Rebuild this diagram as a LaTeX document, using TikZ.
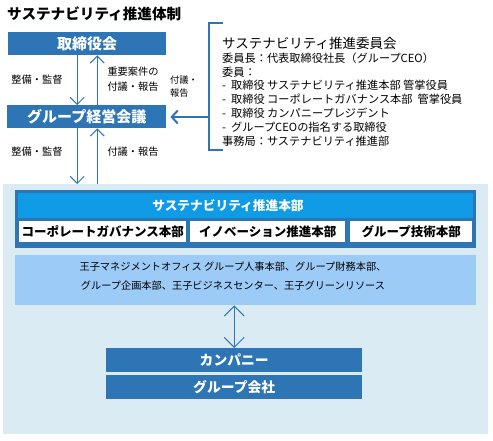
\documentclass[tikz,border=0pt]{standalone}
\usepackage{fontspec}
\setmainfont{Noto Sans CJK JP}
\usepackage{tikz}
\usetikzlibrary{arrows.meta}
\definecolor{darkblue}{HTML}{2E75B6}
\definecolor{brightblue}{HTML}{0F9BE6}
\definecolor{paleblue}{HTML}{9DCBF7}
\definecolor{areablue}{HTML}{DAEBF3}
\tikzstyle{bluebox} = [fill=darkblue, text=white, anchor=north west, inner sep=0pt,
    minimum height=23pt, font=\bfseries\fontsize{15}{17}\selectfont]
\tikzstyle{whitebox} = [fill=white, anchor=north west, inner sep=0pt,
    minimum height=21pt, font=\bfseries\fontsize{12.5}{14}\selectfont]
\tikzstyle{lbl} = [inner sep=0pt, align=left, font=\fontsize{10.2}{15}\selectfont]
\tikzstyle{line} = [draw=darkblue, line width=1pt, -{Straight Barb[length=7pt,width=14pt]}]
\tikzstyle{thickline} = [draw=darkblue, line width=2pt, -{Straight Barb[length=6pt,width=13pt]}]

\begin{document}
\begin{tikzpicture}[x=1pt, y=-1pt]
    \useasboundingbox (0,0) rectangle (493,440);
    % Place nodes
    \node [anchor=west, inner sep=0pt, font=\bfseries\fontsize{14.6}{16}\selectfont] (title) at (7,14) {サステナビリティ推進体制};
    \node [bluebox, minimum width=158pt] (board) at (8,32) {取締役会};
    \node [bluebox, minimum width=159pt] (mgmt) at (7,105) {グループ経営会議};
    \node [lbl] (watch1) at (37,80) {整備・監督};
    \node [lbl] (report1) at (133,79.5) {重要案件の\\付議・報告};
    \node [lbl, font=\fontsize{9.2}{13}\selectfont] (report2) at (184,86.5) {付議・\\報告};
    \node [lbl] (watch2) at (37,152) {整備・監督};
    \node [lbl] (report3) at (133,152) {付議・報告};
    % committee
    \node [anchor=base west, inner sep=0pt, font=\fontsize{13.5}{16}\selectfont] (cmtetitle) at (222,48) {サステナビリティ推進委員会};
    \node [anchor=north west, inner sep=0pt, align=left, font=\fontsize{11.2}{13.8}\selectfont] (cmte) at (222,52.5) {委員長：代表取締役社長（グループCEO）\\委員：\\- \ 取締役 サステナビリティ推進本部 管掌役員\\- \ 取締役 コーポレートガバナンス本部 \ 管掌役員\\- \ 取締役 カンパニープレジデント\\- \ グループCEOの指名する取締役\\事務局：サステナビリティ推進部};
    \coordinate (brk) at (209,117);
    % lower area
    \node [fill=areablue, anchor=north west, inner sep=0pt, minimum width=485pt, minimum height=250pt] (area) at (3,184) {};
    \node [fill=darkblue, anchor=north west, inner sep=0pt, minimum width=461pt, minimum height=58pt] (honbu) at (15,190) {};
    \node [fill=brightblue, anchor=north west, inner sep=0pt, minimum width=455pt, minimum height=25pt] (unit) at (18,193) {};
    \node [text=white, inner sep=0pt, font=\bfseries\fontsize{12.7}{14}\selectfont] (unitlabel) at (228,205.5) {サステナビリティ推進本部};
    \node [whitebox, minimum width=167pt] (corp) at (19,221) {コーポレートガバナンス本部};
    \node [whitebox, minimum width=155pt] (innov) at (190,221) {イノベーション推進本部};
    \node [whitebox, minimum width=122pt] (tech) at (350,221) {グループ技術本部};
    \node [fill=paleblue, anchor=north west, inner sep=0pt, minimum width=461pt, minimum height=50pt] (staff) at (15,255) {};
    \node [lbl, align=center, font=\fontsize{10.2}{19}\selectfont] (stafftext) at (233,276.5) {王子マネジメントオフィス グループ人事本部、グループ財務本部、\\グループ企画本部、王子ビジネスセンター、王子グリーンリソース};
    \node [bluebox, minimum width=256pt, minimum height=24pt, font=\bfseries\fontsize{13.8}{15}\selectfont] (company) at (106,348) {カンパニー};
    \node [bluebox, minimum width=256pt, minimum height=24pt, font=\bfseries\fontsize{13.8}{15}\selectfont] (group) at (106,375) {グループ会社};
    % Draw edges
    \path [line] ([xshift=-10pt]board.south) -- ([xshift=-10pt]board.south |- mgmt.north);
    \path [line] ([xshift=10pt]board.south |- mgmt.north) -- ([xshift=10pt]board.south);
    \path [line] ([xshift=-10pt]board.south |- mgmt.south) -- ([xshift=-10pt]board.south |- area.north);
    \path [line] ([xshift=10pt]board.south |- area.north) -- ([xshift=10pt]board.south |- mgmt.south);
    \draw [darkblue, line width=2pt] (223,23) -| (brk) |- (223,150);
    \path [thickline, shorten >=4pt] (brk) -- (brk -| mgmt.east);
    \path [line, {Straight Barb[length=10pt,width=20pt]}-{Straight Barb[length=10pt,width=20pt]}] (staff.south -| company.north) -- (company.north);
\end{tikzpicture}
\end{document}
